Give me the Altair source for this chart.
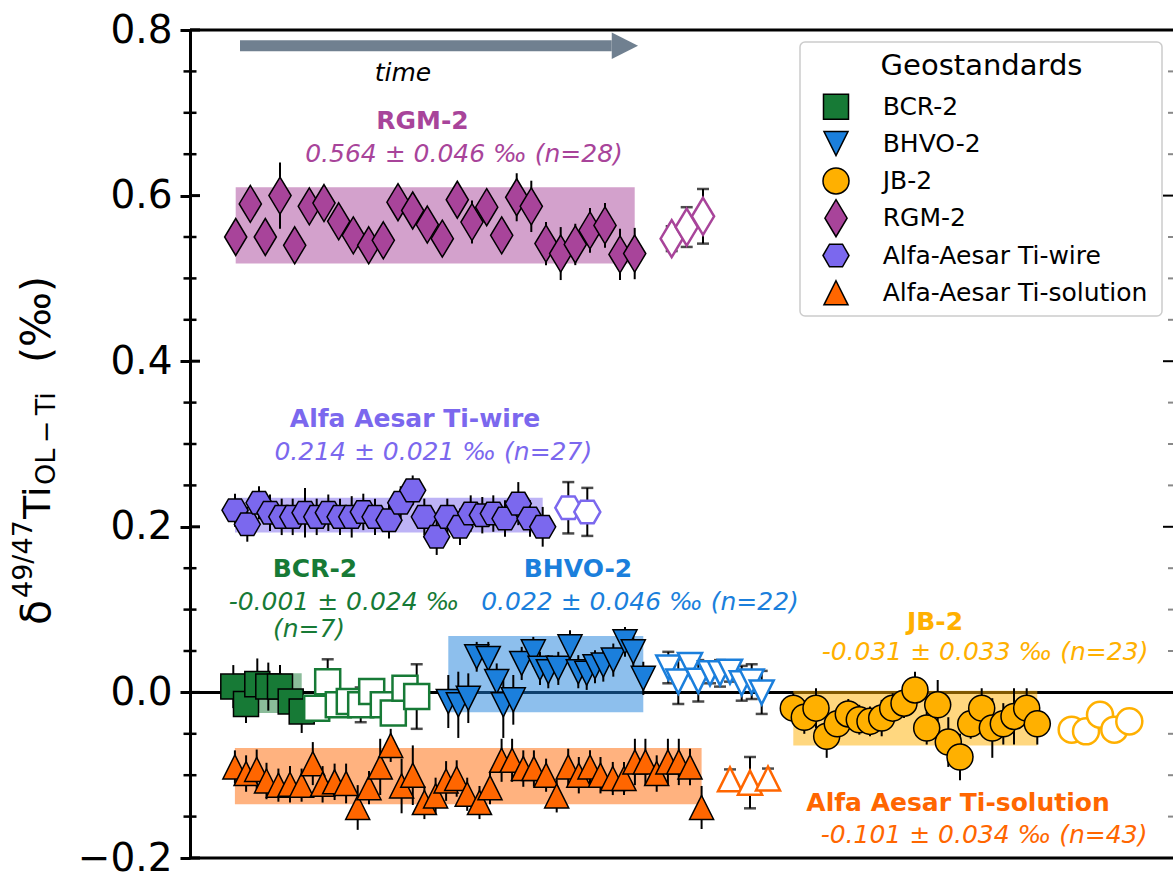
import altair as alt
import pandas as pd

# ---------------- reference materials (legend order) ----------------
groups = ["BCR-2", "BHVO-2", "JB-2", "RGM-2", "Alfa-Aesar Ti-wire", "Alfa-Aesar Ti-solution"]
labels = ["BCR-2", "BHVO-2", "JB-2", "RGM-2", "Alfa Aesar Ti-wire", "Alfa Aesar Ti-solution"]
colors = ["#177a36", "#1b7fdc", "#ffb000", "#a8449a", "#7b68ee", "#ff6600"]
means = [-0.001, 0.022, -0.031, 0.564, 0.214, -0.101]
sds = [0.024, 0.046, 0.033, 0.046, 0.021, 0.034]
counts = [7, 22, 23, 28, 27, 43]

# marker outlines (unit box -1..1)
shapes = [
    "M-0.676,-0.676L0.676,-0.676L0.676,0.676L-0.676,0.676Z",
    "M-0.65,-0.65L0.65,-0.65L0,0.65Z",
    "M0.703,0A0.703,0.703,0,1,1,-0.703,0A0.703,0.703,0,1,1,0.703,0Z",
    "M0,-1L0.6,0L0,1L-0.6,0Z",
    "M-0.703,0L-0.351,-0.609L0.351,-0.609L0.703,0L0.351,0.609L-0.351,0.609Z",
    "M0,-0.65L0.65,0.65L-0.65,0.65Z",
]

# ---------------- measurements: run position, delta value, 2SE ----------------
bcr_x = [4.33, 5.6, 6.73, 7.83, 9.0, 10.07, 11.17]
bcr_y = [0.007, -0.014, 0.010, 0.007, 0.007, -0.011, -0.023]
bcr_e = [0.026, 0.023, 0.031, 0.029, 0.026, 0.022, 0.026]
bcr_ox = [12.67, 13.77, 14.83, 15.93, 17.07, 18.17, 19.33, 20.33, 21.5, 22.67]
bcr_oy = [-0.019, 0.013, -0.015, -0.011, -0.015, 0.001, -0.015, -0.025, 0.005, -0.005]
bcr_oe = [0.012, 0.027, 0.012, 0.012, 0.021, 0.012, 0.012, 0.012, 0.012, 0.039]

bhvo_x = [25.83, 26.83, 27.83, 28.67, 29.83, 30.67, 31.33, 32.33, 33.17, 34.33, 35.0,
          35.83, 36.83, 38.0, 38.83, 39.67, 40.5, 41.33, 42.33, 43.5, 44.33, 45.33]
bhvo_y = [-0.011, -0.015, -0.007, 0.043, 0.041, 0.013, -0.015, -0.009, 0.035, 0.049, 0.029,
          0.025, 0.029, 0.055, 0.025, 0.023, 0.031, 0.033, 0.039, 0.061, 0.049, 0.017]
bhvo_e = [0.032, 0.04, 0.03, 0.018, 0.02, 0.022, 0.04, 0.03, 0.02, 0.018, 0.02,
          0.02, 0.02, 0.02, 0.02, 0.02, 0.02, 0.02, 0.02, 0.018, 0.02, 0.02]
bhvo_ox = [47.83, 48.83, 50.0, 50.83, 52.0, 53.0, 54.0, 55.17, 56.17, 57.17]
bhvo_oy = [0.030, 0.013, 0.033, 0.014, 0.023, 0.023, 0.025, 0.011, 0.013, 0.0]
bhvo_oe = [0.019, 0.027, 0.012, 0.025, 0.012, 0.016, 0.012, 0.021, 0.021, 0.026]

jb_x = [60.33, 61.43, 62.6, 63.67, 64.73, 65.83, 66.93, 68.0, 69.17, 70.27, 71.4, 72.5,
        73.67, 74.77, 75.83, 77.0, 78.07, 79.17, 80.23, 81.33, 82.4, 83.67, 84.73]
jb_y = [-0.019, -0.030, -0.019, -0.053, -0.038, -0.026, -0.033, -0.035, -0.031, -0.019, -0.013, 0.003,
        -0.043, -0.015, -0.060, -0.078, -0.038, -0.019, -0.043, -0.038, -0.029, -0.019, -0.038]
jb_e = [0.018, 0.02, 0.024, 0.026, 0.018, 0.018, 0.018, 0.018, 0.022, 0.018, 0.018, 0.022,
        0.02, 0.03, 0.03, 0.028, 0.018, 0.024, 0.036, 0.025, 0.034, 0.024, 0.025]
jb_ox = [88.17, 89.6, 91.0, 92.43, 93.93]
jb_oy = [-0.045, -0.047, -0.027, -0.045, -0.035]
jb_oe = [0.012, 0.012, 0.012, 0.012, 0.012]

rgm_x = [4.57, 6.03, 7.53, 9.0, 10.47, 11.93, 13.4, 14.87, 16.33, 17.87, 19.33, 20.8, 22.27, 23.73,
         25.23, 26.73, 28.2, 29.67, 31.17, 32.67, 34.13, 35.6, 37.07, 38.53, 40.0, 41.5, 43.0, 44.47]
rgm_y = [0.550, 0.590, 0.550, 0.600, 0.540, 0.587, 0.591, 0.569, 0.552, 0.540, 0.546, 0.592, 0.582, 0.565,
         0.548, 0.595, 0.568, 0.586, 0.552, 0.598, 0.587, 0.542, 0.530, 0.541, 0.558, 0.564, 0.529, 0.530]
rgm_e = [0.02, 0.02, 0.02, 0.04, 0.02, 0.02, 0.02, 0.02, 0.02, 0.02, 0.02, 0.02, 0.02, 0.02,
         0.02, 0.02, 0.026, 0.02, 0.02, 0.029, 0.031, 0.026, 0.032, 0.025, 0.027, 0.027, 0.031, 0.031]
rgm_ox = [48.17, 49.67, 51.3]
rgm_oy = [0.548, 0.562, 0.575]
rgm_oe = [0.015, 0.024, 0.033]

wire_x = [4.5, 5.73, 6.9, 8.0, 9.17, 10.27, 11.5, 12.67, 13.83, 15.0, 16.17, 17.33, 18.5, 19.9,
          21.07, 22.27, 23.43, 24.67, 25.73, 27.0, 28.07, 29.23, 30.33, 31.5, 32.83, 34.0, 35.27]
wire_y = [0.220, 0.203, 0.229, 0.217, 0.212, 0.212, 0.217, 0.212, 0.217, 0.212, 0.212, 0.218, 0.212, 0.208,
          0.229, 0.244, 0.212, 0.188, 0.212, 0.200, 0.216, 0.214, 0.216, 0.210, 0.228, 0.210, 0.200]
wire_e = [0.02, 0.021, 0.02, 0.022, 0.022, 0.022, 0.03, 0.022, 0.022, 0.022, 0.025, 0.022, 0.022, 0.022,
          0.02, 0.018, 0.022, 0.022, 0.022, 0.022, 0.022, 0.022, 0.022, 0.022, 0.026, 0.022, 0.024]
wire_ox = [37.83, 39.73]
wire_oy = [0.223, 0.218]
wire_oe = [0.031, 0.029]

sol_x = [4.49, 5.61, 6.67, 7.65, 8.84, 10.0, 11.16, 12.28, 13.26, 14.46, 15.61, 16.77, 17.9, 19.02,
         20.07, 21.16, 22.28, 23.44, 24.56, 25.61, 26.67, 27.72, 28.95, 30.0, 31.16, 32.21, 33.33,
         34.39, 35.61, 36.67, 37.82, 38.88, 40.0, 41.05, 42.28, 43.4, 44.49, 45.54, 46.67, 47.79,
         48.88, 50.0, 51.16]
sol_y = [-0.090, -0.098, -0.093, -0.107, -0.112, -0.111, -0.112, -0.086, -0.111, -0.108, -0.110, -0.139,
         -0.115, -0.090, -0.064, -0.113, -0.100, -0.133, -0.125, -0.107, -0.104, -0.123, -0.133, -0.115,
         -0.082, -0.082, -0.092, -0.092, -0.100, -0.125, -0.090, -0.100, -0.090, -0.100, -0.104, -0.104,
         -0.084, -0.084, -0.098, -0.084, -0.084, -0.090, -0.139]
sol_e = [0.02, 0.022, 0.024, 0.022, 0.02, 0.022, 0.02, 0.026, 0.022, 0.022, 0.024, 0.027, 0.02, 0.034,
         0.02, 0.033, 0.036, 0.02, 0.022, 0.024, 0.022, 0.02, 0.02, 0.02, 0.026, 0.026, 0.022, 0.022,
         0.02, 0.02, 0.022, 0.022, 0.02, 0.022, 0.02, 0.02, 0.028, 0.028, 0.022, 0.028, 0.028, 0.022, 0.026]
sol_ox = [54.0, 56.0, 57.8]
sol_oy = [-0.105, -0.109, -0.104]
sol_oe = [0.012, 0.031, 0.012]

filled = [(bcr_x, bcr_y, bcr_e), (bhvo_x, bhvo_y, bhvo_e), (jb_x, jb_y, jb_e),
          (rgm_x, rgm_y, rgm_e), (wire_x, wire_y, wire_e), (sol_x, sol_y, sol_e)]
hollow = [(bcr_ox, bcr_oy, bcr_oe), (bhvo_ox, bhvo_oy, bhvo_oe), (jb_ox, jb_oy, jb_oe),
          (rgm_ox, rgm_oy, rgm_oe), (wire_ox, wire_oy, wire_oe), (sol_ox, sol_oy, sol_oe)]

# annotation anchors (run position, delta value)
title_pos = [(12.5, 0.1397), (38.8, 0.1397), (74.5, 0.0753), (23.25, 0.680), (22.5, 0.321), (76.8, -0.143)]
value_pos = [(15.4, 0.0995), (45.0, 0.0995), (79.5, 0.0391), (27.4, 0.641), (24.33, 0.2806), (79.4, -0.182)]
bcr_n_pos = (11.9, 0.0665)

hex_of = dict(zip(groups, colors))
path_of = dict(zip(groups, shapes))


def frame(sets):
    rows = []
    for g, (xs_, ys_, es_) in zip(groups, sets):
        for x, y, e in zip(xs_, ys_, es_):
            rows.append({"group": g, "hex": hex_of[g], "path": path_of[g],
                         "x": x, "y": y, "lo": y - e, "hi": y + e})
    return pd.DataFrame(rows)


pts = frame(filled)
opn = frame(hollow)

bands = pd.DataFrame({
    "hex": colors,
    "x": [min(s[0]) for s in filled],
    "x2": [max(s[0]) for s in filled],
    "y": [m - s for m, s in zip(means, sds)],
    "y2": [m + s for m, s in zip(means, sds)],
})

title_df = pd.DataFrame({"hex": colors, "text": labels,
                         "x": [p[0] for p in title_pos], "y": [p[1] for p in title_pos]})
vtext = []
for m, s, n in zip(means, sds, counts):
    t = f"{m:.3f} \u00b1 {s:.3f} \u2030"
    vtext.append(t if n == 7 else f"{t} (n={n})")
value_df = pd.DataFrame({"hex": colors, "text": vtext,
                         "x": [p[0] for p in value_pos], "y": [p[1] for p in value_pos]})
value_df = pd.concat([value_df, pd.DataFrame({"hex": [hex_of["BCR-2"]], "text": ["(n=7)"],
                                               "x": [bcr_n_pos[0]], "y": [bcr_n_pos[1]]})])

# ---------------- scales & helpers ----------------
W, H = 983, 828
xs = alt.Scale(domain=[0, 98.3], nice=False, zero=False)
ys = alt.Scale(domain=[-0.2, 0.8], nice=False, zero=False)
yaxis = alt.Axis(values=[-0.2, 0.0, 0.2, 0.4, 0.6, 0.8], format=".1f", title=None, grid=False,
                 labelFontSize=39, labelColor="black", labelPadding=8,
                 tickSize=10, tickWidth=3, tickColor="black",
                 domainWidth=3, domainColor="black")


def X(f="x"):
    return alt.X(f"{f}:Q", scale=xs, axis=None)


def Y(f="y"):
    return alt.Y(f"{f}:Q", scale=ys, axis=yaxis)


HEX = alt.Color("hex:N", scale=None)
PX = alt.X("px:Q", scale=None)
PY = alt.Y("py:Q", scale=None)

zero_line = alt.Chart(pd.DataFrame({"y": [0.0]})).mark_rule(color="black", strokeWidth=3).encode(
    y=Y(), x=alt.value(0), x2=alt.value(W))

band_layer = alt.Chart(bands).mark_rect(opacity=0.5).encode(
    x=X(), x2="x2:Q", y=Y(), y2="y2:Q", color=HEX)

err_filled = alt.Chart(pts).mark_rule(color="black", strokeWidth=2).encode(
    x=X(), y=Y("lo"), y2="hi:Q")
err_open = alt.Chart(opn).mark_rule(color="black", strokeWidth=2).encode(
    x=X(), y=Y("lo"), y2="hi:Q")
cap_lo = alt.Chart(opn).mark_tick(orient="horizontal", color="black", thickness=2.5, size=12).encode(
    x=X(), y=Y("lo"))
cap_hi = alt.Chart(opn).mark_tick(orient="horizontal", color="black", thickness=2.5, size=12).encode(
    x=X(), y=Y("hi"))

marks_filled = alt.Chart(pts).mark_point(filled=True, opacity=1, stroke="black",
                                         strokeWidth=1.5, size=1369).encode(
    x=X(), y=Y(),
    fill=alt.Fill("hex:N", scale=None),
    shape=alt.Shape("path:N", scale=None))

marks_open = alt.Chart(opn).mark_point(filled=False, fill="white", opacity=1,
                                       strokeWidth=2.5, size=1369).encode(
    x=X(), y=Y(),
    stroke=alt.Stroke("hex:N", scale=None),
    shape=alt.Shape("path:N", scale=None))

titles = alt.Chart(title_df).mark_text(fontSize=25, fontWeight="bold", align="center",
                                       baseline="alphabetic").encode(
    x=X(), y=Y(), text="text:N", color=HEX)
values = alt.Chart(value_df).mark_text(fontSize=25, fontStyle="italic", align="center",
                                       baseline="alphabetic").encode(
    x=X(), y=Y(), text="text:N", color=HEX)

# time arrow
arrow_df = pd.DataFrame({"x": [5.0], "x2": [42.17], "y": [0.781]})
arrow_body = alt.Chart(arrow_df).mark_rule(color="#708090", strokeWidth=11).encode(
    x=X(), x2="x2:Q", y=Y())
head_df = pd.DataFrame({"x": [43.49], "y": [0.781]})
arrow_head = alt.Chart(head_df).mark_point(shape="M-1,-1L1,0L-1,1Z", filled=True, opacity=1,
                                           color="#708090", size=692).encode(x=X(), y=Y())
time_df = pd.DataFrame({"x": [21.3], "y": [0.739], "text": ["time"]})
time_text = alt.Chart(time_df).mark_text(fontSize=25, fontStyle="italic", color="black",
                                         align="center", baseline="alphabetic").encode(
    x=X(), y=Y(), text="text:N")

# ---------------- legend box (pixel layout inside the plot) ----------------
leg_box = alt.Chart(pd.DataFrame({"a": [0]})).mark_rect(
    fill="white", stroke="#cccccc", strokeWidth=1.5, cornerRadius=5).encode(
    x=alt.value(610), x2=alt.value(972), y=alt.value(12), y2=alt.value(286))
leg_title = alt.Chart(pd.DataFrame({"t": ["Geostandards"]})).mark_text(
    fontSize=29, color="black", align="center", baseline="alphabetic").encode(
    x=alt.value(791.5), y=alt.value(45), text="t:N")
leg_rows = pd.DataFrame({
    "label": groups, "hex": colors, "path": shapes,
    "px": [646] * 6, "tx": [692.7] * 6,
    "py": [76.7, 113.6, 150.9, 188.2, 225.5, 262.8],
})
leg_syms = alt.Chart(leg_rows).mark_point(filled=True, opacity=1, stroke="black",
                                          strokeWidth=1.5, size=1369).encode(
    x=PX, y=PY, fill=alt.Fill("hex:N", scale=None), shape=alt.Shape("path:N", scale=None))
leg_text = alt.Chart(leg_rows).mark_text(fontSize=25, color="black", align="left",
                                         baseline="middle").encode(
    x=alt.X("tx:Q", scale=None), y=PY, text="label:N")

# frame: top/bottom spines and in/out ticks
spines = alt.Chart(pd.DataFrame({"py": [0, H]})).mark_rule(color="black", strokeWidth=3).encode(
    x=alt.value(0), x2=alt.value(W), y=PY)
major_vals = [-0.2, 0.0, 0.2, 0.4, 0.6, 0.8]
minor_vals = [round(-0.2 + 0.05 * i, 2) for i in range(21) if i % 4 != 0]
major_df = pd.DataFrame({"y": major_vals})
minor_df = pd.DataFrame({"y": minor_vals})
tick_in = alt.Chart(major_df).mark_rule(color="black", strokeWidth=3).encode(
    y=Y(), x=alt.value(0), x2=alt.value(10))
tick_minor = alt.Chart(minor_df).mark_rule(color="black", strokeWidth=2.5).encode(
    y=Y(), x=alt.value(-6.5), x2=alt.value(6.5))
tick_r_major = alt.Chart(major_df).mark_rule(color="black", strokeWidth=2).encode(
    y=Y(), x=alt.value(W - 10), x2=alt.value(W))
tick_r_minor = alt.Chart(minor_df).mark_rule(color="#888888", strokeWidth=2).encode(
    y=Y(), x=alt.value(W - 5), x2=alt.value(W))

# y-axis title built from pieces (super/subscripts), read bottom to top
ytitle_df = pd.DataFrame({
    "text": ["\u03b4", "49/47", "Ti", "OL\u2009\u2212\u2009Ti", "(\u2030)"],
    "px": [-140, -158, -140, -135, -140],
    "py": [595, 568, 489, 455, 333],
    "fs": [41, 27, 38, 27, 41],
})
ytitle = alt.Chart(ytitle_df).mark_text(angle=270, align="left", baseline="alphabetic",
                                        color="black").encode(
    x=PX, y=PY, text="text:N", size=alt.Size("fs:Q", scale=None))

chart = alt.layer(
    zero_line, band_layer, err_filled, err_open, cap_lo, cap_hi,
    marks_filled, marks_open, titles, values,
    arrow_body, arrow_head, time_text,
    spines, tick_in, tick_minor, tick_r_major, tick_r_minor, ytitle,
    leg_box, leg_title, leg_syms, leg_text,
).properties(
    width=W, height=H,
    padding={"left": 190, "top": 30, "right": 0, "bottom": 18},
    autosize=alt.AutoSizeParams(type="none"),
).configure(font="DejaVu Sans").configure_view(stroke=None)

chart.save("out.html", embed_options={"renderer": "svg", "actions": False})
